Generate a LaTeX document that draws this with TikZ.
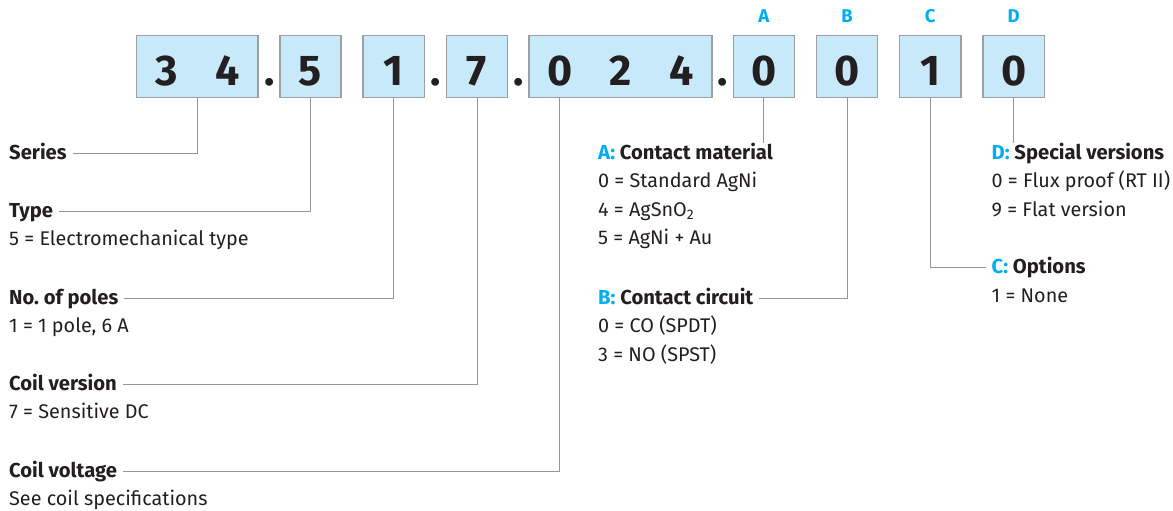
\documentclass[tikz,border=0pt]{standalone}
\usepackage{fontspec}
\setmainfont{Fira Sans}
\frenchspacing
\definecolor{boxblue}{RGB}{199,233,249}
\definecolor{framegrey}{RGB}{157,159,162}
\definecolor{linegrey}{RGB}{147,149,152}
\definecolor{inkblack}{RGB}{35,31,32}
\definecolor{codecyan}{RGB}{0,174,239}

\begin{document}
\begin{tikzpicture}[x=1pt,y=-1pt,
  cell/.style={fill=boxblue,minimum width=60.8pt,minimum height=61pt,inner sep=0pt,
    text height=37pt,text depth=0pt,font=\fontsize{43}{43}\bfseries,text=inkblack},
  frame/.style={draw=framegrey,line width=1.3pt},
  sep/.style={font=\fontsize{43}{43}\bfseries,text=inkblack,inner sep=0pt,anchor=base},
  letter/.style={font=\fontsize{18.5}{19}\bfseries,text=codecyan,inner sep=0pt},
  head/.style={font=\fontsize{20.2}{22}\bfseries,text=inkblack,anchor=base west,
    inner xsep=6pt,inner ysep=0pt,text height=11.4pt,text depth=0pt},
  desc/.style={font=\fontsize{19.8}{22}\selectfont,text=inkblack,anchor=base west,inner sep=0pt},
  conn/.style={draw=linegrey,line width=1pt}]
\useasboundingbox (0,0) rectangle (1173,511);

% code boxes
\foreach \n/\x/\d in {c3/166.9/3, c4/227.5/4, b5/310.5/5, b1/393.7/1, b7/477/7,
    v0/559.7/0, v2/620.5/2, v4/681.3/4, bA/763.8/0, bB/847/0, bC/930.3/1, bD/1013.7/0}
  \node[cell] (\n) at (\x,66.5) {\d};
\foreach \a/\b in {c3/c4, b5/b5, b1/b1, b7/b7, v0/v4, bA/bA, bB/bB, bC/bC, bD/bD}
  \draw[frame] (\a.north west) rectangle (\b.south east);
\foreach \n/\x in {p1/269.3, p2/435.3, p3/518.3, p4/722.5}
  \node[sep] (\n) at (\x,85) {.};
\foreach \l in {A,B,C,D}
  \node[letter] (l\l) at (b\l.center |- 0,16) {\l};

% left column
\node[head] (series) at (3,159) {Series};
\node[head] (type) at (3,217) {Type};
\node[desc] (typeA) at (9,245.5) {5 = Electromechanical type};
\node[head] (poles) at (3,304) {No. of poles};
\node[desc] (polesA) at (9,332.5) {1 = 1 pole, 6 A};
\node[head] (cver) at (3,390) {Coil version};
\node[desc] (cverA) at (9,418.5) {7 = Sensitive DC};
\node[head] (cvolt) at (3,477) {Coil voltage};
\node[desc] (cvoltA) at (9,505) {See coil specifications};

% right columns
\node[head] (matl) at (592,159) {\textcolor{codecyan}{A:} Contact material};
\node[desc] (matlA) at (598,187.5) {0 = Standard AgNi};
\node[desc] (matlB) at (598,216) {4 = AgSnO\textsubscript{2}};
\node[desc] (matlC) at (598,244.5) {5 = AgNi + Au};
\node[head] (circ) at (592,304) {\textcolor{codecyan}{B:} Contact circuit};
\node[desc] (circA) at (598,332.5) {0 = CO (SPDT)};
\node[desc] (circB) at (598,361) {3 = NO (SPST)};
\node[head] (opts) at (985.5,273.5) {\textcolor{codecyan}{C:} Options};
\node[desc] (optsA) at (991.5,302) {1 = None};
\node[head] (spec) at (985.5,159) {\textcolor{codecyan}{D:} Special versions};
\node[desc] (specA) at (991.5,187.5) {0 = Flux proof (RT II)};
\node[desc] (specB) at (991.5,216) {9 = Flat version};

% connectors
\draw[conn] (c3.south east) |- (series.east);
\draw[conn] (b5.south) |- (type.east);
\draw[conn] (b1.south) |- (poles.east);
\draw[conn] (b7.south) |- (cver.east);
\draw[conn] (v0.south) |- (cvolt.east);
\draw[conn,shorten >=4.5pt] (bA.south) -- (bA.south |- matl.north);
\draw[conn] (bB.south) |- (circ.east);
\draw[conn] (bC.south) |- (opts.west);
\draw[conn,shorten >=4.5pt] (bD.south) -- (bD.south |- spec.north);

\end{tikzpicture}
\end{document}
